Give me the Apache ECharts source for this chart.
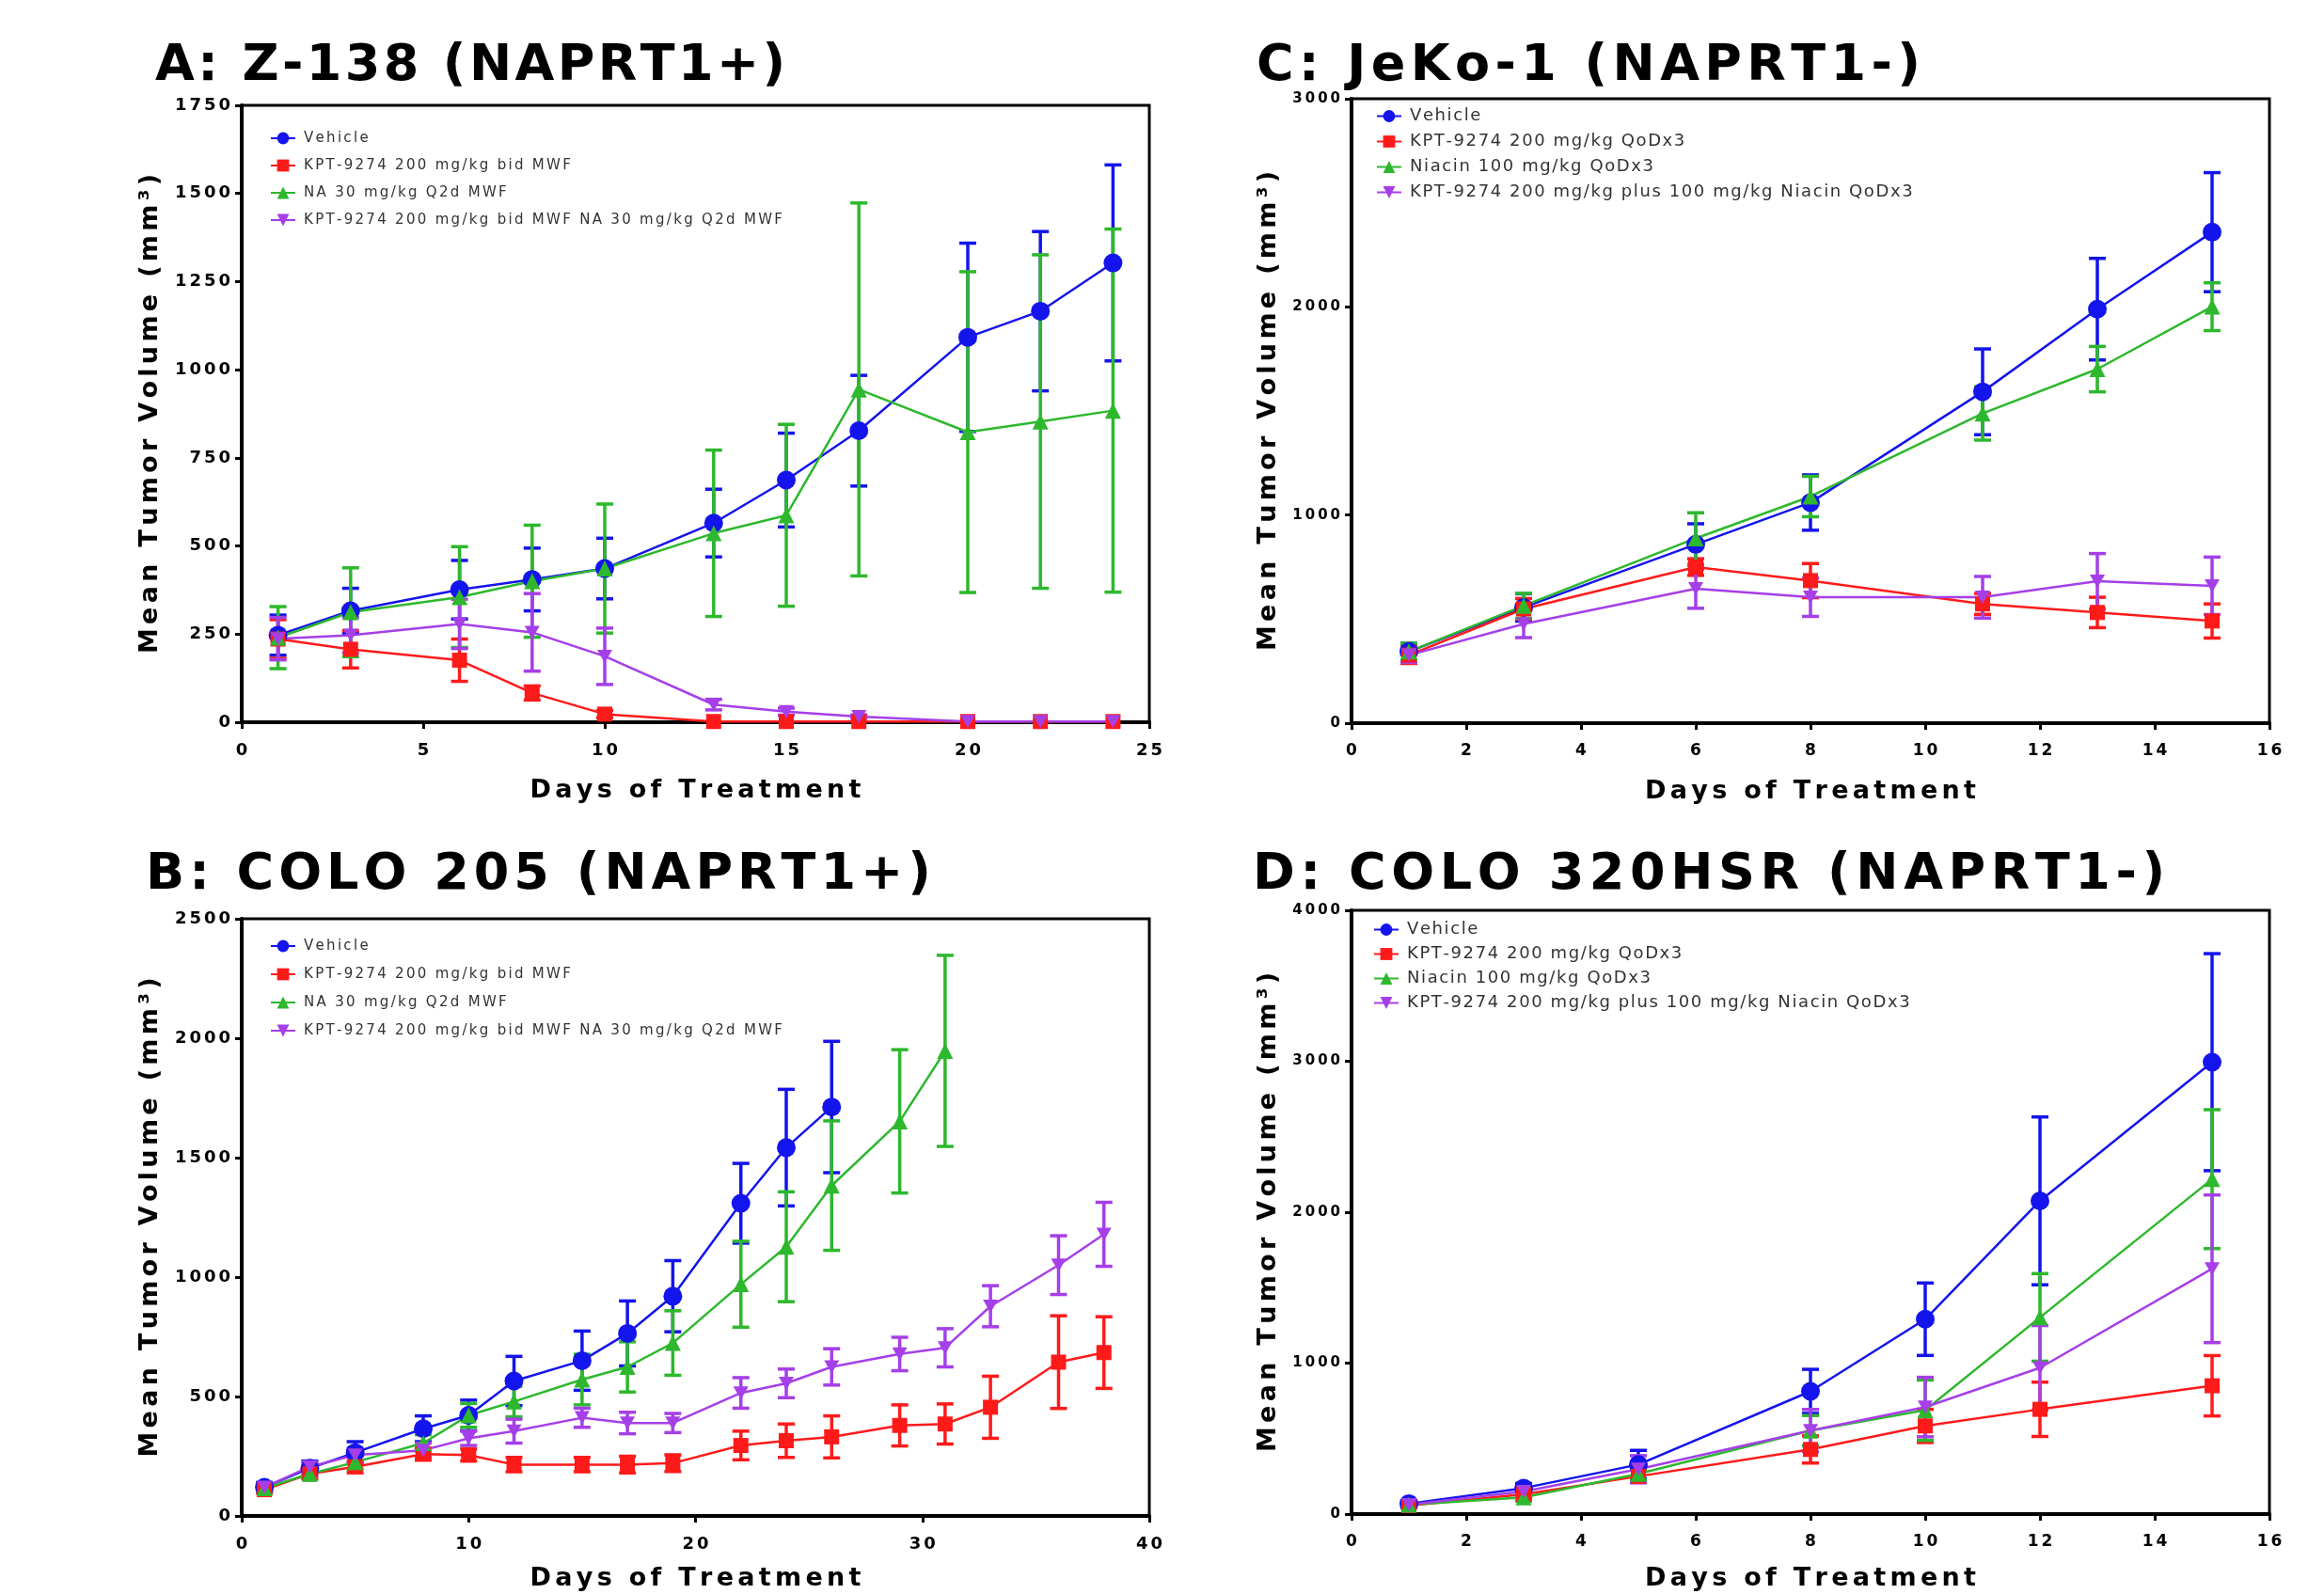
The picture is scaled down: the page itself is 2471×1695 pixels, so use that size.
<!DOCTYPE html>
<html><head><meta charset="utf-8">
<script src="https://cdn.jsdelivr.net/npm/echarts@6/dist/echarts.min.js"></script>
<style>html,body{margin:0;padding:0;background:#fff}#c{width:2471px;height:1695px}</style>
</head><body><div id="c"></div><script>
// ---------- Panel A: Z-138 ----------
const daysA = [1, 3, 6, 8, 10, 13, 15, 17, 20, 22, 24];
const A_vehicle = [247, 316, 376, 405, 436, 565, 687, 827, 1092, 1166, 1303];
const A_vehicleErr = [57, 64, 83, 89, 86, 96, 133, 157, 267, 226, 278];
const A_kpt = [236, 207, 176, 83, 23, 2, 2, 2, 2, 2, 2];
const A_kptErr = [55, 53, 60, 20, 10, 0, 0, 0, 0, 0, 0];
const A_na = [240, 312, 355, 400, 436, 536, 587, 944, 823, 853, 884];
const A_naErr = [88, 126, 143, 159, 183, 236, 258, 529, 455, 473, 515];
const A_combo = [237, 247, 279, 255, 187, 50, 30, 16, 2, 2, 2];
const A_comboErr = [60, 50, 70, 110, 80, 15, 10, 5, 0, 0, 0];

// ---------- Panel B: COLO 205 ----------
const daysB = [1, 3, 5, 8, 10, 12, 15, 17, 19, 22, 24, 26, 29, 31, 33, 36, 38];
const B_vehicle = [120, 200, 265, 365, 421, 565, 650, 764, 920, 1309, 1542, 1712];
const B_vehicleErr = [20, 30, 46, 54, 64, 103, 124, 136, 149, 167, 244, 275];
const B_kpt = [110, 176, 206, 259, 255, 215, 215, 215, 221, 295, 315, 331, 379, 385, 455, 644, 684];
const B_kptErr = [15, 20, 25, 25, 25, 30, 30, 35, 35, 60, 70, 88, 86, 84, 130, 194, 150];
const B_na = [116, 176, 225, 305, 421, 479, 571, 624, 724, 970, 1127, 1383, 1652, 1947];
const B_naErr = [15, 20, 30, 35, 50, 64, 106, 105, 135, 180, 230, 271, 300, 400];
const B_combo = [120, 206, 255, 275, 325, 355, 411, 389, 389, 515, 555, 624, 678, 704, 878, 1050, 1179];
const B_comboErr = [15, 20, 30, 30, 30, 50, 40, 45, 40, 64, 60, 76, 70, 80, 86, 123, 134];

// ---------- Panel C: JeKo-1 ----------
const daysC = [1, 3, 6, 8, 11, 13, 15];
const C_vehicle = [344, 556, 859, 1060, 1592, 1989, 2359];
const C_vehicleErr = [40, 66, 99, 133, 206, 244, 286];
const C_kpt = [327, 549, 750, 685, 573, 532, 491];
const C_kptErr = [40, 50, 40, 82, 50, 73, 82];
const C_niacin = [344, 564, 888, 1089, 1488, 1701, 2001];
const C_niacinErr = [40, 60, 123, 97, 128, 109, 115];
const C_combo = [327, 477, 646, 605, 605, 682, 660];
const C_comboErr = [35, 66, 94, 92, 100, 133, 138];

// ---------- Panel D: COLO 320HSR ----------
const daysD = [1, 3, 5, 8, 10, 12, 15];
const D_vehicle = [69, 172, 328, 813, 1291, 2075, 2994];
const D_vehicleErr = [20, 30, 94, 146, 240, 556, 719];
const D_kpt = [56, 131, 250, 428, 584, 694, 850];
const D_kptErr = [15, 25, 40, 90, 110, 180, 200];
const D_niacin = [62, 110, 266, 553, 688, 1303, 2219];
const D_niacinErr = [15, 25, 40, 100, 200, 290, 460];
const D_combo = [62, 150, 297, 553, 709, 969, 1625];
const D_comboErr = [15, 25, 90, 140, 197, 280, 489];

// ---------- Labels ----------
const titles = ['A: Z-138 (NAPRT1+)', 'C: JeKo-1 (NAPRT1-)', 'B: COLO 205 (NAPRT1+)', 'D: COLO 320HSR (NAPRT1-)'];
const namesAB = ['Vehicle', 'KPT-9274 200 mg/kg bid MWF', 'NA 30 mg/kg Q2d MWF', 'KPT-9274 200 mg/kg bid MWF NA 30 mg/kg Q2d MWF'];
const namesCD = ['Vehicle', 'KPT-9274 200 mg/kg QoDx3', 'Niacin 100 mg/kg QoDx3', 'KPT-9274 200 mg/kg plus 100 mg/kg Niacin QoDx3'];
const xName = 'Days of Treatment';
const yName = 'Mean Tumor Volume (mm³)';

// ---------- Styles ----------
const COLORS = ['#1414ec', '#ff1a1a', '#2db82d', '#a53fe8'];
const SYMBOLS = ['circle', 'rect', 'triangle', 'path://M0,0L10,0L5,9Z'];
const SIZES = [20, 16, 17, [16, 14]];
const FONT = 'DejaVu Sans';

// letter-spaced rich text: every character after the first gets left padding
function spaced(s, key) {
  return Array.from(s).map((c, i) => '{' + key + (i ? '' : '0') + '|' + c + '}').join('');
}
function spacedRich(key, font) {
  const a = Object.assign({}, font, {padding: [0, 0, 0, font.sp]});
  const b = Object.assign({}, font, {padding: 0});
  delete a.sp; delete b.sp;
  const r = {}; r[key] = a; r[key + '0'] = b; return r;
}

const grids = [
  {left: 257, top: 112, width: 965, height: 656},
  {left: 1437, top: 105, width: 976, height: 664},
  {left: 257, top: 977, width: 965, height: 637},
  {left: 1437, top: 968, width: 976, height: 647}
];
const xCfg = [[0, 25, 5, 18], [0, 16, 2, 17], [0, 40, 10, 18], [0, 16, 2, 17]];
const yCfg = [[0, 1750, 250, 18], [0, 3000, 1000, 15], [0, 2500, 500, 18], [0, 4000, 1000, 15]];
const yNameGap = [82, 73, 82, 73];
const xNameGap = [58, 58, 52, 54];
const titlePos = [[165, 41], [1336, 41], [155, 901], [1332, 901]];
const titleSp = [3.4, 5.4, 5, 5.6];
const legendPos = [
  {left: 287, top: 139, gap: 13, fs: 15, sp: 2.3},
  {left: 1463, top: 114, gap: 8, fs: 18, sp: 1.6},
  {left: 287, top: 998, gap: 14, fs: 15, sp: 2.3},
  {left: 1460, top: 979, gap: 7, fs: 18, sp: 1.6}
];

const panels = [
  {days: daysA, names: namesAB, vals: [A_vehicle, A_kpt, A_na, A_combo], errs: [A_vehicleErr, A_kptErr, A_naErr, A_comboErr]},
  {days: daysC, names: namesCD, vals: [C_vehicle, C_kpt, C_niacin, C_combo], errs: [C_vehicleErr, C_kptErr, C_niacinErr, C_comboErr]},
  {days: daysB, names: namesAB, vals: [B_vehicle, B_kpt, B_na, B_combo], errs: [B_vehicleErr, B_kptErr, B_naErr, B_comboErr]},
  {days: daysD, names: namesCD, vals: [D_vehicle, D_kpt, D_niacin, D_combo], errs: [D_vehicleErr, D_kptErr, D_niacinErr, D_comboErr]}
];

const option = {
  animation: false,
  backgroundColor: '#fff',
  title: [], grid: [], xAxis: [], yAxis: [], legend: [], series: []
};

const nameFont = {fontFamily: FONT, fontSize: 27, fontWeight: 'bold', color: '#000', lineHeight: 30, sp: 4.3};

panels.forEach((p, pi) => {
  const titleFont = {fontFamily: FONT, fontSize: 54, fontWeight: 'bold', color: '#000', lineHeight: 60, sp: titleSp[pi]};
  option.title.push({
    text: spaced(titles[pi], 't'), left: titlePos[pi][0], top: titlePos[pi][1], padding: 0,
    textStyle: {fontFamily: FONT, fontSize: 54, fontWeight: 'bold', color: '#000', lineHeight: 60, rich: spacedRich('t', titleFont)}
  });
  option.grid.push(Object.assign({show: true, borderColor: '#000', borderWidth: 3, backgroundColor: '#fff', containLabel: false}, grids[pi]));
  const xl = {fontFamily: FONT, fontSize: xCfg[pi][3], fontWeight: 'bold', color: '#000', lineHeight: xCfg[pi][3] + 2, sp: 3};
  const yl = {fontFamily: FONT, fontSize: yCfg[pi][3], fontWeight: 'bold', color: '#000', lineHeight: yCfg[pi][3] + 2, sp: 3};
  option.xAxis.push({
    type: 'value', gridIndex: pi, min: xCfg[pi][0], max: xCfg[pi][1], interval: xCfg[pi][2],
    name: spaced(xName, 'n'), nameLocation: 'middle', nameGap: xNameGap[pi],
    nameTextStyle: {fontFamily: FONT, fontSize: 27, fontWeight: 'bold', color: '#000', lineHeight: 30, rich: spacedRich('n', nameFont)},
    axisLine: {show: true, onZero: false, lineStyle: {color: '#000', width: 4}},
    axisTick: {show: true, inside: false, length: 7, lineStyle: {color: '#000', width: 3}},
    axisLabel: {margin: 20, fontFamily: FONT, fontSize: xCfg[pi][3], fontWeight: 'bold', color: '#000',
      formatter: v => spaced(String(v), 'x'), rich: spacedRich('x', xl)},
    splitLine: {show: false}
  });
  option.yAxis.push({
    type: 'value', gridIndex: pi, min: yCfg[pi][0], max: yCfg[pi][1], interval: yCfg[pi][2],
    name: spaced(yName, 'n'), nameLocation: 'middle', nameRotate: 90, nameGap: yNameGap[pi],
    nameTextStyle: {fontFamily: FONT, fontSize: 27, fontWeight: 'bold', color: '#000', lineHeight: 30, rich: spacedRich('n', nameFont)},
    axisLine: {show: true, onZero: false, lineStyle: {color: '#000', width: 4}},
    axisTick: {show: true, inside: false, length: 7, lineStyle: {color: '#000', width: 3}},
    axisLabel: {margin: 12, fontFamily: FONT, fontSize: yCfg[pi][3], fontWeight: 'bold', color: '#000',
      formatter: v => spaced(String(v), 'y'), rich: spacedRich('y', yl)},
    splitLine: {show: false}
  });
  const lp = legendPos[pi];
  const lf = {fontFamily: FONT, fontSize: lp.fs, color: '#333', lineHeight: lp.fs + 1, sp: lp.sp};
  option.legend.push({
    orient: 'vertical', left: lp.left, top: lp.top, padding: 0, itemGap: lp.gap,
    itemWidth: 26, itemHeight: 16, selectedMode: false,
    data: p.names.map(n => ({name: n})),
    formatter: n => spaced(n, 'l'),
    textStyle: {fontFamily: FONT, fontSize: lp.fs, color: '#333', lineHeight: lp.fs + 1, padding: [0, 0, 0, 4], rich: spacedRich('l', lf)}
  });
  p.vals.forEach((vals, si) => {
    const color = COLORS[si];
    const errs = p.errs[si];
    option.series.push({
      type: 'custom', xAxisIndex: pi, yAxisIndex: pi, silent: true, z: 2,
      encode: {x: 0, y: 1},
      data: vals.map((v, i) => [p.days[i], v, errs[i]]),
      renderItem: function (params, api) {
        const x = api.value(0), y = api.value(1), e = api.value(2);
        if (!e) return null;
        const t = api.coord([x, y + e]);
        const b = api.coord([x, y - e]);
        const w = 9;
        const st = {stroke: color, lineWidth: 3.5};
        return {type: 'group', children: [
          {type: 'line', shape: {x1: t[0], y1: t[1], x2: b[0], y2: b[1]}, style: st},
          {type: 'line', shape: {x1: t[0] - w, y1: t[1], x2: t[0] + w, y2: t[1]}, style: st},
          {type: 'line', shape: {x1: b[0] - w, y1: b[1], x2: b[0] + w, y2: b[1]}, style: st}
        ]};
      }
    });
    option.series.push({
      type: 'line', name: p.names[si], xAxisIndex: pi, yAxisIndex: pi, z: 3,
      data: vals.map((v, i) => [p.days[i], v]),
      symbol: SYMBOLS[si], symbolSize: SIZES[si], showAllSymbol: true,
      itemStyle: {color: color, borderWidth: 0},
      lineStyle: {color: color, width: 2.5}
    });
  });
});

const chart = echarts.init(document.getElementById('c'), null, {renderer: 'canvas'});
chart.setOption(option);
</script></body></html>
